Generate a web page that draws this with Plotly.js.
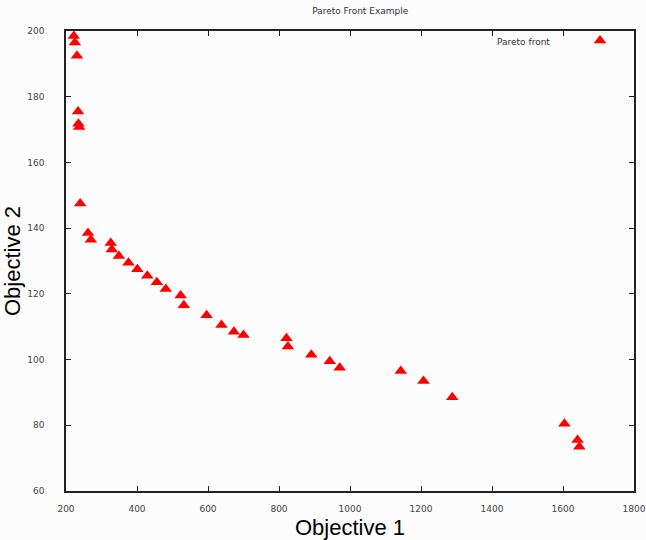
<!DOCTYPE html>
<html>
<head>
<meta charset="utf-8">
<script src="https://cdn.plot.ly/plotly-3.0.1.min.js"></script>
<style>
  html, body { margin: 0; padding: 0; background: #fcfcfc; }
  #chart { width: 646px; height: 540px; }
</style>
</head>
<body>
<div id="chart"></div>
<script>
// Pareto front points (Objective 1, Objective 2)
const objective1 = [222, 225, 231, 234, 235, 237, 240, 262, 270, 326, 329, 349, 376, 401, 429, 456, 481, 523, 532, 596, 638, 673, 700, 821, 825, 891, 943, 971, 1143, 1207, 1288, 1604, 1641, 1646];
const objective2 = [198.5, 196.5, 192.5, 175.5, 171.8, 170.8, 147.5, 138.5, 136.5, 135.5, 133.5, 131.5, 129.5, 127.5, 125.5, 123.5, 121.5, 119.5, 116.5, 113.5, 110.5, 108.5, 107.5, 106.5, 104, 101.5, 99.5, 97.5, 96.5, 93.5, 88.5, 80.5, 75.5, 73.5];
const xTicks = [200, 400, 600, 800, 1000, 1200, 1400, 1600, 1800];
const yTicks = [60, 80, 100, 120, 140, 160, 180, 200];
const seriesName = "Pareto front";
const chartTitle = "Pareto Front Example";

const trace = {
  x: objective1,
  y: objective2,
  type: 'scatter',
  mode: 'markers',
  name: ' ',
  showlegend: true,
  marker: { symbol: 'triangle-up', color: '#ff0000', size: 11, line: { width: 0 } },
  hoverinfo: 'x+y'
};

const tickFont = { family: 'DejaVu Sans', size: 9, color: '#444' };
const axisTitleFont = { family: 'Liberation Sans', size: 22, color: '#000' };

const layout = {
  width: 646,
  height: 540,
  paper_bgcolor: '#fcfcfc',
  plot_bgcolor: '#fcfcfc',
  margin: { l: 66, r: 12, t: 31, b: 49, pad: 0 },
  title: {
    text: chartTitle,
    font: { family: 'DejaVu Sans', size: 9, color: '#333' },
    x: 0.518, xanchor: 'center', xref: 'paper',
    y: 0.98, yanchor: 'middle', yref: 'container'
  },
  xaxis: {
    range: [200, 1800],
    tickvals: xTicks,
    ticktext: xTicks.map(String),
    ticks: 'inside', ticklen: 5, tickwidth: 1, tickcolor: '#222',
    showline: true, linecolor: '#222', linewidth: 1.5, mirror: 'ticks',
    showgrid: false, zeroline: false,
    tickfont: tickFont,
    ticklabelstandoff: 8,
    title: { text: 'Objective 1', font: axisTitleFont, standoff: 10 },
    automargin: false
  },
  yaxis: {
    range: [60, 200],
    tickvals: yTicks,
    ticktext: yTicks.map(String),
    ticks: 'inside', ticklen: 5, tickwidth: 1, tickcolor: '#222',
    showline: true, linecolor: '#222', linewidth: 1.5, mirror: 'ticks',
    showgrid: false, zeroline: false,
    tickfont: tickFont,
    ticklabelstandoff: 18,
    title: { text: 'Objective 2', font: axisTitleFont, standoff: 2 },
    automargin: false
  },
  legend: {
    x: 0.905, xanchor: 'left', xref: 'paper',
    y: 1.011, yanchor: 'top', yref: 'paper',
    bgcolor: 'rgba(0,0,0,0)',
    font: { family: 'DejaVu Sans', size: 9, color: '#333' },
    itemwidth: 30
  },
  annotations: [{
    text: seriesName,
    xref: 'paper', yref: 'paper',
    x: (552 - 66) / 568, xanchor: 'right',
    y: 1 - (42 - 31) / 460, yanchor: 'middle',
    showarrow: false,
    font: { family: 'DejaVu Sans', size: 9, color: '#333' }
  }],
  hovermode: 'closest'
};

Plotly.newPlot('chart', [trace], layout, { displayModeBar: false, staticPlot: false });
</script>
</body>
</html>
